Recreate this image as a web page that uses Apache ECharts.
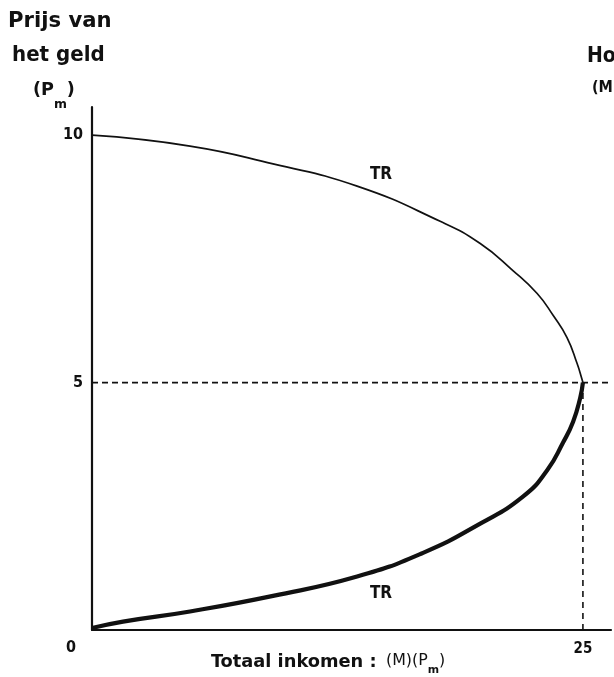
<!DOCTYPE html>
<html><head><meta charset="utf-8">
<script src="https://cdn.jsdelivr.net/npm/echarts@6/dist/echarts.min.js"></script>
<style>html,body{margin:0;padding:0;background:#fff}#c{width:614px;height:677px}</style>
</head><body><div id="c"></div>
<script>
// Upper branch of TR (thin): [total income, price]
const upperTR = [[0,10],[4.99,9.78],[9.22,9.42],[13.5,8.97],[17.73,8.26],[19.77,7.81],[21.45,7.26],[22.67,6.80],[23.48,6.36],[24.19,5.91],[24.70,5.39],[24.96,5.06],[25,5]];
// Lower branch of TR (thick)
const lowerTR = [[25,5],[24.86,4.69],[24.50,4.21],[23.99,3.79],[23.18,3.23],[21.96,2.70],[19.77,2.15],[16.86,1.56],[13.5,1.08],[9.22,0.69],[4.99,0.375],[1.58,0.17],[0,0.04]];
const yTickLabels = [5, 10];
const xTickLabels = [25];
const refPrice = 5;
const refIncome = 25;
const xMax = 26.43;
const yMax = 10.57;

const FONT = '"DejaVu Sans Condensed","DejaVu Sans",sans-serif';
const chart = echarts.init(document.getElementById('c'), null, {renderer:'canvas'});
const dash = {type:[6,4], width:1.8, color:'#111'};
chart.setOption({
  animation:false,
  backgroundColor:'#fff',
  grid:{left:92, right:0, top:107, bottom:47},
  xAxis:{type:'value', min:0, max:xMax, interval:25,
    axisLine:{show:true, onZero:false, lineStyle:{color:'#111', width:2.2}},
    axisTick:{show:false}, splitLine:{show:false},
    axisLabel:{margin:12, color:'#111', fontFamily:FONT, fontWeight:'bold', fontSize:15,
      formatter:v=> xTickLabels.includes(v)? String(v):''}},
  yAxis:{type:'value', min:0, max:yMax, interval:5,
    axisLine:{show:true, onZero:false, lineStyle:{color:'#111', width:2.2}},
    axisTick:{show:false}, splitLine:{show:false},
    axisLabel:{margin:9, color:'#111', fontFamily:FONT, fontWeight:'bold', fontSize:16,
      formatter:v=> yTickLabels.includes(v)? String(v):''}},
  series:[
    {type:'line', data:[[0,refPrice],[xMax,refPrice]], symbol:'none', lineStyle:dash, z:1},
    {type:'line', data:[[refIncome,0],[refIncome,refPrice]], symbol:'none', lineStyle:{type:[6,5], width:1.6, color:'#111'}, z:1},
    {type:'line', data:upperTR, smooth:0.5, symbol:'none', lineStyle:{color:'#111', width:1.7}, z:3},
    {type:'line', data:lowerTR, smooth:0.5, symbol:'none', lineStyle:{color:'#111', width:4.2}, z:3}
  ],
  graphic:[
    {type:'text', left:8, top:11, scaleX:1.12, style:{text:'Prijs van', font:'bold 21px '+FONT, fill:'#111'}},
    {type:'text', left:12, top:45, scaleX:1.05, style:{text:'het geld', font:'bold 21px '+FONT, fill:'#111'}},
    {type:'text', left:33, top:82, scaleX:1.15, style:{text:'{a|(P}{s|m}{a|)}', rich:{
      a:{font:'bold 17px '+FONT, fill:'#111', lineHeight:20, verticalAlign:'top'},
      s:{font:'bold 12px '+FONT, fill:'#111', lineHeight:29, verticalAlign:'bottom'}}}},
    {type:'text', left:587, top:46, style:{text:'Ho', font:'bold 21px '+FONT, fill:'#111'}},
    {type:'text', left:592, top:80, style:{text:'(M', font:'bold 16px '+FONT, fill:'#111'}},
    {type:'text', x:381, y:175, style:{text:'TR', font:'bold 17px '+FONT, fill:'#111', align:'center', verticalAlign:'middle'}},
    {type:'text', x:381, y:594, style:{text:'TR', font:'bold 17px '+FONT, fill:'#111', align:'center', verticalAlign:'middle'}},
    {type:'text', x:71, y:648, style:{text:'0', font:'bold 16px '+FONT, fill:'#111', align:'center', verticalAlign:'middle'}},
    {type:'text', left:211, top:653, scaleX:1.1, style:{text:'Totaal inkomen :', font:'bold 18px '+FONT, fill:'#111'}},
    {type:'text', left:386, top:653, scaleX:1.1, style:{text:'{n|(M)(P}{s|m}{n|)}', rich:{
      n:{font:'16px "DejaVu Sans Condensed","DejaVu Sans",sans-serif', fill:'#111', lineHeight:19, verticalAlign:'top'},
      s:{font:'bold 11px '+FONT, fill:'#111', lineHeight:23, verticalAlign:'bottom'}}}}
  ]
});
</script></body></html>
